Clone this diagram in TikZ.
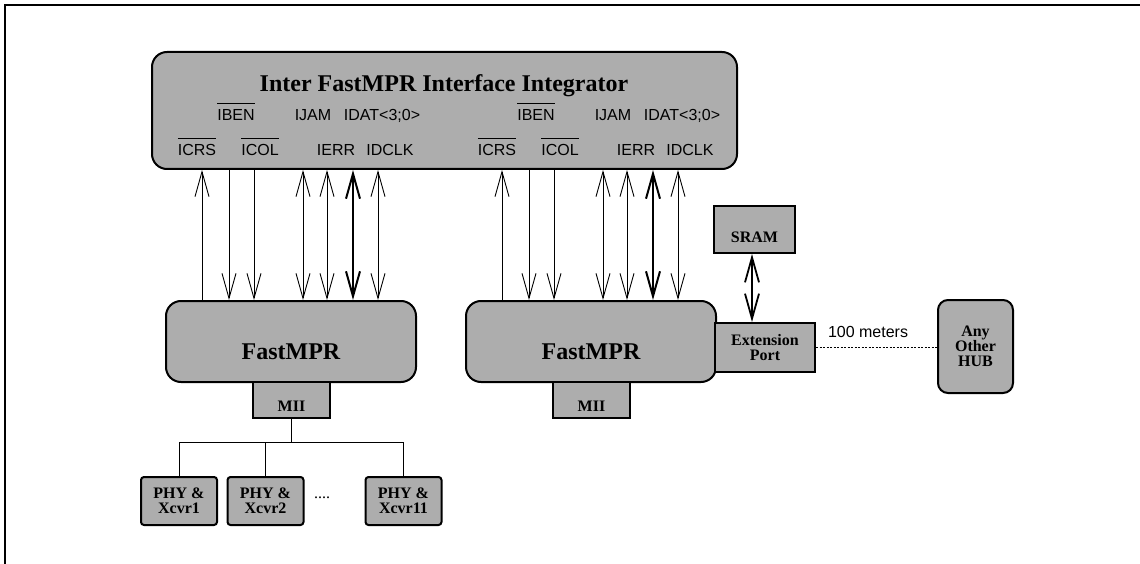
\documentclass[tikz,border=0pt]{standalone}
\usepackage{fontspec}
\setmainfont{Liberation Serif}
\setsansfont{Liberation Sans}
\usetikzlibrary{arrows.meta}
\newcommand{\sigbar}[1]{\setbox0\hbox{#1}\rlap{\raisebox{17pt}{\rule{\wd0}{1pt}}}\box0}

\begin{document}
\begin{tikzpicture}[x=1pt,y=-1pt,
    blk/.style={draw, line width=2pt, fill=black!32, inner sep=0pt, align=center,
        font=\fontsize{16}{15}\selectfont\bfseries},
    rblk/.style={blk, rounded corners=15pt},
    big/.style={font=\fontsize{24}{24}\selectfont\bfseries},
    sig/.style={font=\fontsize{16}{16}\selectfont\sffamily, inner sep=0pt, anchor=base},
    wire/.style={line width=0.9pt, >={Straight Barb[length=25pt,width=14pt]}}]
    \useasboundingbox (0,0) rectangle (1140,564);

    % page frame (top and left edge only)
    \draw[line width=2pt] (1140,5) -- (5,5) -- (5,564);

    % Integrator
    \node[rblk, minimum width=585pt, minimum height=117pt] (iii) at (444.5,110.5) {};
    \node[big] (ttl) at (444,86) {Inter FastMPR Interface Integrator};

    % FastMPR blocks
    \node[rblk, big, text height=36pt, minimum width=250pt, minimum height=81pt] (mprA) at (291,341.5) {FastMPR};
    \node[rblk, big, text height=36pt, minimum width=250pt, minimum height=81pt] (mprB) at (591,341.5) {FastMPR};
    \node[blk, text height=22pt, minimum width=77pt, minimum height=36pt] (miiA) at (291.5,400) {MII};
    \node[blk, text height=22pt, minimum width=77pt, minimum height=36pt] (miiB) at (591.5,400) {MII};

    % signal names and wires, one set per FastMPR
    \foreach \dx/\k in {0/A,300/B}{
        \node[sig] (ben\k) at (236+\dx,121) {\sigbar{IBEN}};
        \node[sig] (jam\k) at (313+\dx,121) {IJAM};
        \node[sig] (dat\k) at (382+\dx,121) {IDAT<3;0>};
        \node[sig] (crs\k) at (197+\dx,156) {\sigbar{ICRS}};
        \node[sig] (col\k) at (260+\dx,156) {\sigbar{ICOL}};
        \node[sig] (err\k) at (336+\dx,156) {IERR};
        \node[sig] (clk\k) at (390+\dx,156) {IDCLK};
        \foreach \x/\tip/\lw in {202/->/0.9pt, 229/<-/0.9pt, 254/<-/0.9pt, 303/<->/0.9pt,
                                 327/<->/0.9pt, 353/<->/2pt, 378/<->/0.9pt}{
            \pgfmathsetmacro\xx{\x+\dx}
            \draw[wire, \tip, line width=\lw] (mpr\k.north -| \xx,0) -- (iii.south -| \xx,0);
        }
    }

    % extension port side
    \node[blk, text height=27pt, minimum width=81pt, minimum height=47pt] (sram) at (754.5,229.5) {SRAM};
    \node[blk, minimum width=100pt, minimum height=49pt] (ext) at (765,347.5) {Extension\\Port};
    \node[rblk, rounded corners=10pt, minimum width=75pt, minimum height=93pt] (hub) at (975.5,346.5) {Any\\Other\\HUB};
    \draw[wire, <->, line width=1.8pt] (sram.south -| 752,0) -- (ext.north -| 752,0);
    \draw[line width=0.9pt, dash pattern=on 2pt off 1.5pt] (ext.east) --
        node[sig, anchor=south, pos=0.43, yshift=9pt] (dist) {100 meters} (ext.east -| hub.west);

    % PHYs on the MII
    \node[blk, rounded corners=3pt, minimum width=76pt, minimum height=48pt] (phyA) at (179,501) {PHY \&\\Xcvr1};
    \node[blk, rounded corners=3pt, minimum width=76pt, minimum height=48pt] (phyB) at (265.5,501) {PHY \&\\Xcvr2};
    \node[blk, rounded corners=3pt, minimum width=76pt, minimum height=48pt] (phyC) at (403.5,501) {PHY \&\\Xcvr11};
    \node[font=\fontsize{16}{16}\selectfont] (dots) at (322,498) {....};
    \coordinate (bus) at (0,442);
    \draw[line width=0.9pt] (miiA.south) -- (miiA.south |- bus);
    \draw[line width=0.9pt] (phyA.north) |- (bus -| phyC.north) -- (phyC.north);
    \draw[line width=0.9pt] (phyB.north) -- (phyB.north |- bus);
\end{tikzpicture}
\end{document}
